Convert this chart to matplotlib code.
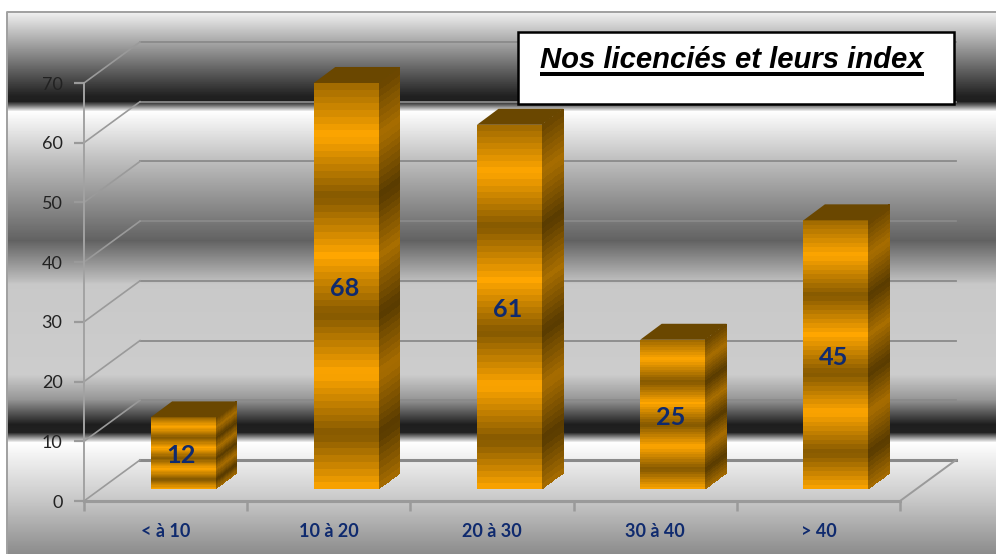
import numpy as np
import matplotlib
matplotlib.use('Agg')
import matplotlib.pyplot as plt
from matplotlib.patches import Rectangle, Polygon

categories = ['< à 10', '10 à 20', '20 à 30', '30 à 40', '> 40']
values = [12, 68, 61, 25, 45]
y_ticks = [0, 10, 20, 30, 40, 50, 60, 70]
title = 'Nos licenciés et leurs index'

W, H = 996, 554
navy = '#0f2a6e'
line_grey = '#8a8a8a'

# background bands : pixel row -> grey level
bg_rows = [12, 95, 101, 105, 111, 160, 240, 285, 375, 400, 425, 433, 443, 500, 554]
bg_grey = [240, 34, 30, 110, 254, 190, 98, 200, 204, 150, 30, 34, 254, 200, 140]

# bar bands : height fraction -> orange/brown mix (1 = full orange)
band_pos = [0, .135, .285, .43, .575, .72, .87, 1.0]
band_mix = [1, 0, 1, 0, 1, 0, 1, .2]
orange = np.array([255, 166, 0]) / 255
brown = np.array([132, 88, 0]) / 255

fig = plt.figure(figsize=(W / 100, H / 100), dpi=100)

# panel behind everything, in pixel coordinates
bg = fig.add_axes([0, 0, 1, 1], zorder=0)
bg.set_xlim(0, W)
bg.set_ylim(H, 0)
bg.axis('off')
rows = np.arange(12, H + 1)
grey = np.interp(rows, bg_rows, bg_grey) / 255
bg.imshow(grey[:, None], cmap='gray', vmin=0, vmax=1, aspect='auto',
          extent=[7, W, H, 12], interpolation='nearest')
bg.set_xlim(0, W)
bg.set_ylim(H, 0)
bg.plot([7, 7, W], [H, 12, 12], color='#a0a0a0', lw=1.4, solid_capstyle='butt')

# front plane of the chart
ax = fig.add_axes([84 / W, (H - 501) / H, 816 / W, 418 / H], zorder=1)
ax.patch.set_alpha(0)
ax.set_xlim(-0.5, 4.5)
ax.set_ylim(0, 70)

wall_dx, wall_dy = 56 / 163.2, 41 / 5.97
bar_dx, bar_dy = 17.5 / 163.2, 2.0
side_dx, side_dy = 21.5 / 163.2, 16 / 5.97
bar_w = 65 / 163.2

# walls and floor
for v in y_ticks:
    lw = 2.2 if v == 0 else 1.3
    ax.plot([-0.5 + wall_dx, 4.5 + wall_dx], [v + wall_dy, v + wall_dy],
            color=line_grey, lw=lw, clip_on=False, zorder=2)
    ax.plot([-0.5, -0.5 + wall_dx], [v, v + wall_dy], color='#9a9a9a', lw=1.2,
            clip_on=False, zorder=2)
ax.plot([4.5, 4.5 + wall_dx], [0, wall_dy], color='#9a9a9a', lw=1.4, clip_on=False, zorder=2)


def face(x0, x1, y0, y1, shear_x, shear_y, dim):
    # one banded face of a bar
    n = 60
    t = np.linspace(0, 1, n + 1)
    tc = (t[:-1] + t[1:]) / 2
    mix = np.interp(tc, band_pos, band_mix)[:, None]
    rgb = (mix * orange + (1 - mix) * brown) * dim
    if shear_x:
        cols = 8
        u = np.linspace(0, 1, cols + 1)
        X = np.tile(x0 + u * shear_x, (n + 1, 1))
        Y = y0 + t[:, None] * (y1 - y0) + u * shear_y
        C = np.repeat(rgb[:, None, :], cols, axis=1)
    else:
        X = np.tile([x0, x1], (n + 1, 1))
        Y = y0 + t[:, None] * (y1 - y0) * np.ones((1, 2))
        C = rgb[:, None, :]
    ax.pcolormesh(X, Y, C, shading='flat', antialiased=False, linewidth=0,
                  zorder=3, clip_on=False)


for i, v in enumerate(values):
    x0 = i + bar_dx - bar_w / 2
    x1 = i + bar_dx + bar_w / 2
    face(x0, x1, bar_dy, v + bar_dy, 0, 0, 1.0)
    face(x1, x1, bar_dy, v + bar_dy, side_dx, side_dy, 0.66)
    top = [(x0, v + bar_dy), (x1, v + bar_dy),
           (x1 + side_dx, v + bar_dy + side_dy), (x0 + side_dx, v + bar_dy + side_dy)]
    ax.add_patch(Polygon(top, closed=True, fc='#6a4700', ec='none', zorder=3, clip_on=False))
    ax.text(i + bar_dx - 0.012, v / 2 + bar_dy - 0.45, str(v), ha='center', va='center',
            fontsize=18.2, fontweight='bold', color=navy, family='Lato', zorder=4)

ax.set_yticks(y_ticks)
ax.set_xticks(np.arange(-0.5, 5))
ax.set_xticklabels([])
ax.set_xticks(range(5), categories, minor=True)
ax.tick_params(axis='x', which='minor', length=0, pad=15.5, labelsize=13, labelcolor=navy)
ax.tick_params(axis='x', which='major', length=7, width=1.8, color='#9a9a9a')
ax.tick_params(axis='y', length=7, width=1.6, color='#9a9a9a', labelsize=13,
               labelcolor='#222222', pad=8.5)
for lab in ax.get_xticklabels(minor=True):
    lab.set_family('Lato')
    lab.set_fontweight('bold')
for lab in ax.get_yticklabels():
    lab.set_family('Lato')

for s in ['top', 'right']:
    ax.spines[s].set_visible(False)
ax.spines['left'].set_color('#a2a2a2')
ax.spines['left'].set_linewidth(1.4)
ax.spines['bottom'].set_color('#9a9a9a')
ax.spines['bottom'].set_linewidth(2.2)

# title box, placed in pixels
ax.add_patch(Rectangle((517.5, 31.5), 436, 72.5, transform=bg.transData, fc='white',
                       ec='black', lw=1.8, zorder=10, clip_on=False))
ax.text(732, 60.5, title, transform=bg.transData, ha='center', va='center',
        fontsize=21.1, fontweight='bold', fontstyle='italic', family='Liberation Sans',
        color='black', zorder=11)
ax.add_patch(Rectangle((540, 72), 384, 3.8, transform=bg.transData, fc='black', ec='none',
                       zorder=11, clip_on=False))

fig.savefig('out.png', dpi=100)
